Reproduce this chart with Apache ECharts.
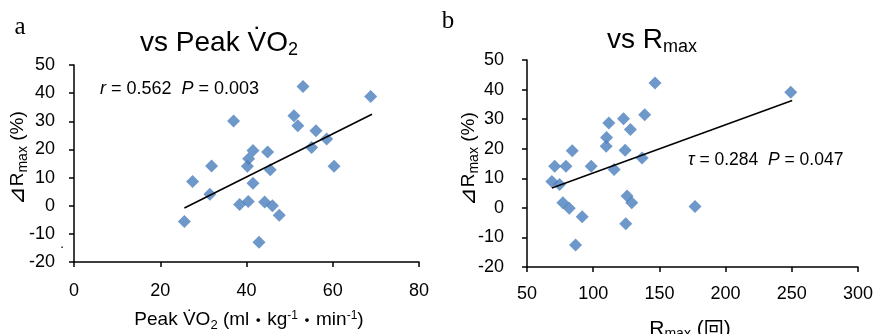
<!DOCTYPE html>
<html><head><meta charset="utf-8">
<script src="https://cdn.jsdelivr.net/npm/echarts@6/dist/echarts.min.js"></script>
<style>html,body{margin:0;padding:0;background:#fff}#c{width:876px;height:334px}</style>
</head><body><div id="c"></div>
<script>
// Panel a: Peak VO2 vs ΔRmax
var vo2X = [25.6,27.5,31.5,31.9,37.0,38.4,40.2,40.5,40.4,41.5,41.5,42.9,44.2,44.9,45.5,46.0,47.6,51.0,51.9,53.1,55.1,56.1,58.6,60.3,68.8];
var vo2Y = [-5.6,8.6,4.1,14.1,30.1,0.4,14.0,16.7,1.5,19.6,8.0,-13.0,1.3,19.1,12.8,0.0,-3.4,32.0,28.4,42.4,20.7,26.6,23.7,14.0,38.8];
var vo2TrendX = [25.6, 69.1];
var vo2TrendY = [-0.8, 32.5];
// Panel b: Rmax vs ΔRmax
var rmaxX = [68.8,70.9,74.6,77.1,79.4,81.9,84.2,86.7,91.7,98.5,109.8,110.1,111.8,115.8,122.9,124.1,124.6,125.6,128.1,129.1,136.9,138.9,146.7,176.9,249.2];
var rmaxY = [8.9,14.1,7.9,1.7,14.1,-0.1,19.3,-12.6,-3.0,14.1,20.8,23.8,28.7,13.0,30.1,19.5,-5.4,4.0,26.5,1.7,16.9,31.5,42.2,0.5,39.1];
var rmaxTrendX = [68.8, 250.3];
var rmaxTrendY = [6.7, 36.3];
var yTicks = {min: -20, max: 50, interval: 10};
var xTicksA = {min: 0, max: 80, interval: 20};
var xTicksB = {min: 50, max: 300, interval: 50};

function zip(a, b) { return a.map(function (v, i) { return [v, b[i]]; }); }

var FONT = '"Liberation Sans", Arial, sans-serif';
var chart = echarts.init(document.getElementById('c'), null, {renderer: 'canvas'});

function axisCommon(extra, margin) {
  return Object.assign({
    type: 'value',
    splitLine: {show: false},
    axisLine: {show: true, onZero: false, lineStyle: {color: '#000', width: 1.5}},
    axisTick: {show: true, inside: false, length: 5, lineStyle: {color: '#000', width: 1.5}},
    axisLabel: {color: '#000', fontSize: 18, fontFamily: FONT, margin: margin}
  }, extra);
}

var richBase = {
  m: {fontSize: 19, fontFamily: FONT, color: '#000'},
  s: {fontSize: 13, fontFamily: FONT, color: '#000', padding: [10, 0, 0, 0]},
  u: {fontSize: 12, fontFamily: FONT, color: '#000', padding: [0, 0, 9, 0]},
  j: {fontSize: 18, fontFamily: '"Noto Sans CJK JP"', color: '#000'},
  bm: {fontSize: 21, fontFamily: FONT, color: '#000'},
  bs: {fontSize: 14, fontFamily: FONT, color: '#000', padding: [11, 0, 0, 0]},
  bj: {fontSize: 20, fontFamily: '"Noto Sans CJK JP"', color: '#000'},
  t: {fontSize: 28, fontFamily: FONT, color: '#000'},
  ts: {fontSize: 18, fontFamily: FONT, color: '#000', padding: [14, 0, 0, 0]},
  n: {fontSize: 18, fontFamily: FONT, color: '#000'},
  i: {fontSize: 18, fontFamily: FONT, color: '#000', fontStyle: 'italic'},
  n2: {fontSize: 17.5, fontFamily: FONT, color: '#000'},
  i2: {fontSize: 17.5, fontFamily: FONT, color: '#000', fontStyle: 'italic'},
  ym: {fontSize: 19, fontFamily: FONT, color: '#000'},
  ys: {fontSize: 14, fontFamily: FONT, color: '#000', padding: [10, 0, 0, 0]},
  d: {fontSize: 22, fontFamily: '"DejaVu Sans"', color: '#000', fontStyle: 'italic'}
};

function txt(x, y, text, opts) {
  return {
    type: 'text', x: x, y: y,
    style: Object.assign({text: text, rich: richBase, align: 'center', verticalAlign: 'middle', fill: '#000', font: '17px ' + FONT}, opts || {})
  };
}

var option = {
  animation: false,
  backgroundColor: '#fff',
  grid: [
    {left: 74, top: 65, width: 345, height: 197},
    {left: 527, top: 60, width: 331, height: 207}
  ],
  xAxis: [
    axisCommon({gridIndex: 0, min: xTicksA.min, max: xTicksA.max, interval: xTicksA.interval}, 20),
    axisCommon({gridIndex: 1, min: xTicksB.min, max: xTicksB.max, interval: xTicksB.interval}, 18)
  ],
  yAxis: [
    axisCommon({gridIndex: 0, min: yTicks.min, max: yTicks.max, interval: yTicks.interval}, 19),
    axisCommon({gridIndex: 1, min: yTicks.min, max: yTicks.max, interval: yTicks.interval}, 23)
  ],
  series: [
    {type: 'line', xAxisIndex: 0, yAxisIndex: 0, data: zip(vo2TrendX, vo2TrendY), symbol: 'none', lineStyle: {color: '#000', width: 1.5}, z: 3},
    {type: 'scatter', xAxisIndex: 0, yAxisIndex: 0, data: zip(vo2X, vo2Y), symbol: 'diamond', symbolSize: 13, itemStyle: {color: '#4A7EBB'}, z: 2},
    {type: 'line', xAxisIndex: 1, yAxisIndex: 1, data: zip(rmaxTrendX, rmaxTrendY), symbol: 'none', lineStyle: {color: '#000', width: 1.5}, z: 3},
    {type: 'scatter', xAxisIndex: 1, yAxisIndex: 1, data: zip(rmaxX, rmaxY), symbol: 'diamond', symbolSize: 13, itemStyle: {color: '#4A7EBB'}, z: 2}
  ],
  graphic: [
    txt(20, 27, 'a', {font: '25px "Liberation Serif", serif'}),
    txt(448, 21, 'b', {font: '25px "Liberation Serif", serif'}),
    txt(219, 43, '{t|vs Peak V\u0307O}{ts|2}'),
    txt(652, 40, '{t|vs R}{ts|max}'),
    txt(249, 320, '{m|Peak V\u0307O}{s|2}{m| (ml}{j|\u30FB}{m|kg}{u|-1}{j|\u30FB}{m|min}{u|-1}{m|)}'),
    txt(690, 329, '{bm|R}{bs|max}{bm| (}{bj|回}{bm|)}'),
    txt(100, 89, '{i|r}{n| = 0.562  }{i|P}{n| = 0.003}', {align: 'left'}),
    txt(688, 160, '{i2|\u03C4}{n2| = 0.284  }{i2|P}{n2| = 0.047}', {align: 'left'}),
    {type: 'text', x: 18, y: 158, rotation: Math.PI / 2, style: {text: '{d|\u22BF}{ym|R}{ys|max}{ym| (%)}', rich: richBase, align: 'center', verticalAlign: 'middle'}},
    {type: 'text', x: 469, y: 159, rotation: Math.PI / 2, style: {text: '{d|\u22BF}{ym|R}{ys|max}{ym| (%)}', rich: richBase, align: 'center', verticalAlign: 'middle'}},
    txt(62, 247, '\u00B7', {font: '14px ' + FONT})
  ]
};
chart.setOption(option);
</script>
</body></html>
